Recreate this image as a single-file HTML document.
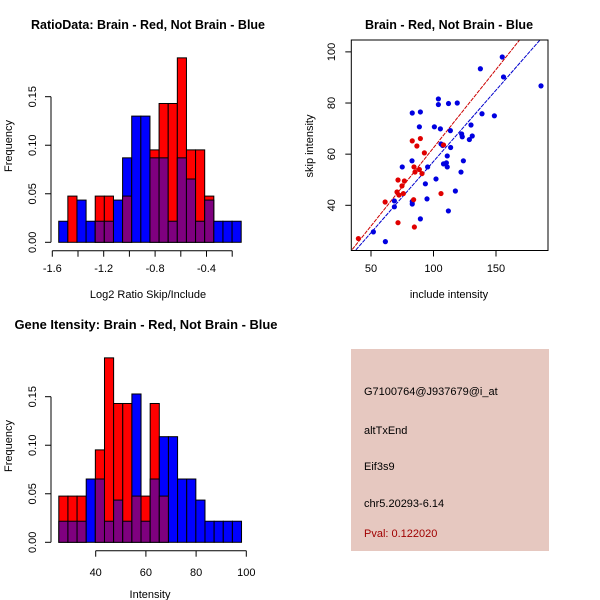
<!DOCTYPE html>
<html><head><meta charset="utf-8"><style>
body{margin:0;background:#fff}
svg{display:block;font-family:"Liberation Sans",sans-serif}
.t{font-size:11px;fill:#000}
.ttl{font-size:12.5px;font-weight:bold}
</style></head><body>
<svg id="s" width="600" height="600" viewBox="0 0 600 600"></svg>
<script>
// Histogram 1: Log2 ratio
const ratioBlue=[0.0217,0,0.0435,0.0217,0.0217,0.0217,0.0435,0.087,0.130,0.130,0.087,0.087,0.0217,0.087,0.0652,0.0217,0.0435,0.0217,0.0217,0.0217];
const ratioRed=[0,0.0476,0,0,0.0476,0.0476,0,0.0476,0,0,0.0952,0.143,0.143,0.190,0.0952,0.0952,0.0476,0,0,0];
const ratioStart=-1.55, ratioWidth=0.071;
const ratioXTicks=[-1.6,-1.4,-1.2,-1.0,-0.8,-0.6,-0.4,-0.2];
const ratioXLabels=["-1.6","","-1.2","","-0.8","","-0.4",""];
const freqTicks=[0,0.05,0.10,0.15];
const freqLabels=["0.00","0.05","0.10","0.15"];
// Histogram 2: intensity
const intBlue=[0.0217,0.0217,0.0217,0.0652,0.0652,0.0217,0.0435,0.0217,0.1528,0.0217,0.0652,0.1088,0.1088,0.0652,0.0652,0.0435,0.0217,0.0217,0.0217,0.0217];
const intRed=[0.0476,0.0476,0.0476,0,0.0952,0.190,0.143,0.143,0.0476,0.0476,0.143,0.0476,0,0,0,0,0,0,0,0];
const intStart=25.3, intWidth=3.64;
const intXTicks=[40,60,80,100];
// Scatter
const blueInc=[155,156,137.5,186,138.8,148.7,103.9,103.9,112,119,83,89.5,88.7,100.7,105.5,113.5,130,122.5,123,131,128.7,106,107.3,113.7,82.8,111,123.9,108,110.3,111,95.3,75,122,93.5,102,117.5,83,83,94.8,68.7,68.7,111.9,89.5,51.9,61.5];
const blueSkip=[98,90.2,93.4,86.7,75.8,75,81.6,79.4,79.8,80,76.1,76.5,70.7,70.7,69.9,69.2,71.4,67.9,66.8,67.1,65.7,64,63.4,62.6,57.4,59.3,57.4,56.2,56.6,55,55,55,53,48.4,50.3,45.6,41.5,40.5,42.5,41.7,39.4,37.8,34.7,29.6,25.8];
const redInc=[83,89.5,86.7,108,92.7,84.4,85.2,88.7,90.8,71.6,76.7,74.8,70.8,75.9,72.4,84.1,106,61.3,71.6,84.7,39.9];
const redSkip=[65.2,66.1,63.2,63.6,60.5,55,53,54,52.4,49.9,49.5,47.6,45.2,44.6,44,42.2,44.6,41.3,33.2,31.5,27];
const redLine=[1.3,0.612];   // intercept, slope
const blueLine=[1.4,0.5575];
const scXTicks=[50,100,150];
const scYTicks=[40,60,80,100];

const S=document.getElementById('s');
const NS='http://www.w3.org/2000/svg';
function el(tag,attrs,parent){const e=document.createElementNS(NS,tag);for(const k in attrs)e.setAttribute(k,attrs[k]);(parent||S).appendChild(e);return e;}
function txt(x,y,s,cls,extra){const e=el('text',Object.assign({x:x,y:y,'class':cls||'t','text-anchor':'middle'},extra||{}));e.textContent=s;return e;}

function hist(g,blue,red,start,width,sx,sy){
  for(let i=0;i<blue.length;i++){
    const x0=sx(start+i*width),x1=sx(start+(i+1)*width);
    const b=blue[i],r=red[i],mx=Math.max(b,r),mn=Math.min(b,r);
    if(mx>0){
      const bar=el('rect',{x:x0,y:sy(mx),width:x1-x0,height:sy(0)-sy(mx),fill:b>=r?'#0000ff':'#ff0000',stroke:'#000','stroke-width':1},g);
      
      
    }
    if(mn>0){
      const bar=el('rect',{x:x0,y:sy(mn),width:x1-x0,height:sy(0)-sy(mn),fill:'#7f007f',stroke:'#000','stroke-width':1},g);
      
      
    }
  }
}
function yAxisFreq(g,sy){
  el('line',{x1:51,x2:51,y1:sy(0),y2:sy(0.15),stroke:'#000'},g);
  freqTicks.forEach((v,i)=>{
    el('line',{x1:45,x2:51,y1:sy(v),y2:sy(v),stroke:'#000'},g);
    txt(36,sy(v),freqLabels[i],'t',{transform:'rotate(-90 36 '+sy(v)+')'});
  });
}

// Panel 1
{
  const g=el('g',{});
  
  
  const sx=v=>52.3+(v+1.6)*128.5, sy=v=>242.3-v*970.7;
  hist(g,ratioBlue,ratioRed,ratioStart,ratioWidth,sx,sy);
  yAxisFreq(g,sy);
  const ax=250.7;
  el('line',{x1:sx(-1.6),x2:sx(-0.2),y1:ax,y2:ax,stroke:'#000'},g);
  ratioXTicks.forEach((v,i)=>{el('line',{x1:sx(v),x2:sx(v),y1:ax,y2:ax+6,stroke:'#000'},g);if(ratioXLabels[i])txt(sx(v),272,ratioXLabels[i]);});
  const t=txt(148,29,'RatioData: Brain - Red, Not Brain - Blue','t ttl',{textLength:234,lengthAdjust:'spacingAndGlyphs'});
  const xl=txt(148,298,'Log2 Ratio Skip/Include');
  const yl=txt(12,146,'Frequency','t',{transform:'rotate(-90 12 146)'});
}
// Panel 3
{
  const g=el('g',{});
  
  
  const sx=v=>95.7+(v-40)*2.51, sy=v=>542.3-v*970.7;
  hist(g,intBlue,intRed,intStart,intWidth,sx,sy);
  yAxisFreq(g,sy);
  const ax=550.7;
  el('line',{x1:sx(40),x2:sx(100),y1:ax,y2:ax,stroke:'#000'},g);
  intXTicks.forEach(v=>{el('line',{x1:sx(v),x2:sx(v),y1:ax,y2:ax+6,stroke:'#000'},g);txt(sx(v),576,String(v));});
  const t=txt(146,329,'Gene Itensity: Brain - Red, Not Brain - Blue','t ttl',{textLength:263,lengthAdjust:'spacingAndGlyphs'});
  const xl=txt(150,598,'Intensity');
  const yl=txt(12,446,'Frequency','t',{transform:'rotate(-90 12 446)'});
}
// Panel 2 scatter
{
  const g=el('g',{});
  
  
  const sx=v=>371+(v-50)*1.25, sy=v=>205.3-(v-40)*2.557;
  const L=351.3,R=548,T=40,B=250.5;
  const cp=el('clipPath',{id:'cp'},g);el('rect',{x:L,y:T,width:R-L,height:B-T},cp);
  const lg=el('g',{'clip-path':'url(#cp)'},g);
  [[redLine,'#cc0000'],[blueLine,'#0000cc']].forEach(([ln,c])=>{
    const x0=30,x1=200;
    const l=el('line',{x1:sx(x0),y1:sy(ln[0]+ln[1]*x0),x2:sx(x1),y2:sy(ln[0]+ln[1]*x1),stroke:c,'stroke-width':1,'stroke-dasharray':'4,1'},lg);
    
    
  });
  blueInc.forEach((v,i)=>{const p=el('circle',{cx:sx(v),cy:sy(blueSkip[i]),r:2.6,fill:'#0000e0'},lg);
    
    });
  redInc.forEach((v,i)=>{const p=el('circle',{cx:sx(v),cy:sy(redSkip[i]),r:2.6,fill:'#e00000'},lg);
    
    });
  el('rect',{x:L,y:T,width:R-L,height:B-T,fill:'none',stroke:'#000'},g);
  scXTicks.forEach(v=>{el('line',{x1:sx(v),x2:sx(v),y1:B,y2:B+6,stroke:'#000'},g);txt(sx(v),272,String(v));});
  scYTicks.forEach(v=>{el('line',{x1:L-6,x2:L,y1:sy(v),y2:sy(v),stroke:'#000'},g);txt(335,sy(v),String(v),'t',{transform:'rotate(-90 335 '+sy(v)+')'});});
  const t=txt(449,29,'Brain - Red, Not Brain - Blue','t ttl');
  const xl=txt(449,298,'include intensity');
  const yl=txt(313,146,'skip intensity','t',{transform:'rotate(-90 313 146)'});
}
// Info panel
{
  const g=el('g',{});
  
  
  el('rect',{x:351,y:349,width:198,height:202,fill:'#e6c8c0'},g);
  const lines=[['G7100764@J937679@i_at',395,'#000'],['altTxEnd',434,'#000'],['Eif3s9',470,'#000'],['chr5.20293-6.14',507,'#000'],['Pval: 0.122020',537,'#a00000']];
  lines.forEach(([s,y,c])=>{const e=txt(364,y,s,'t',{'text-anchor':'start',style:'fill:'+c});});
}
</script>
</body></html>
